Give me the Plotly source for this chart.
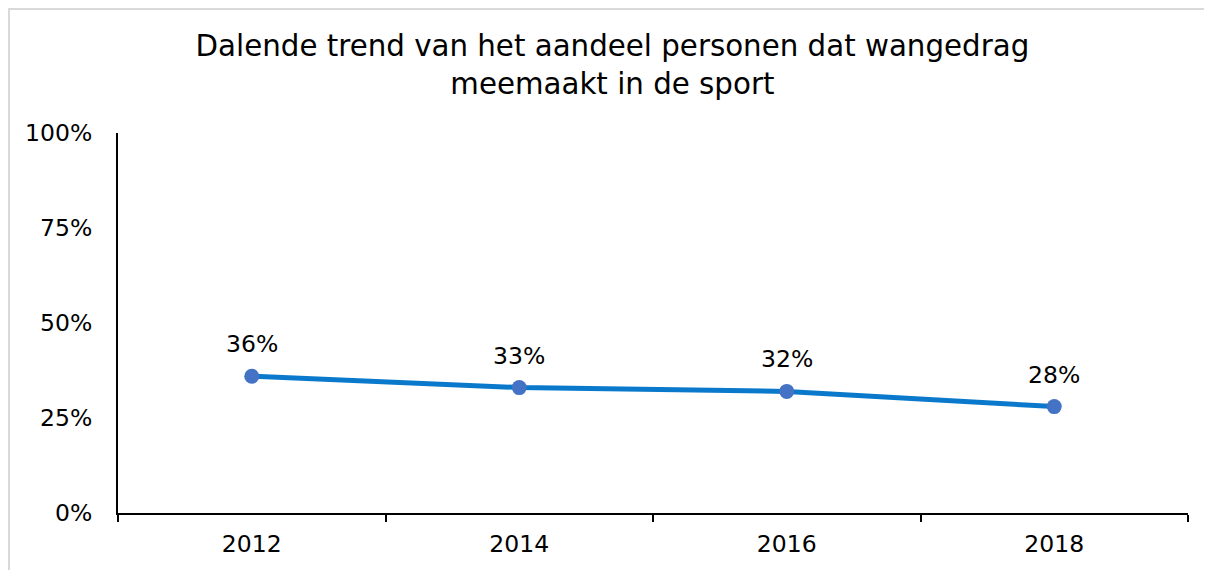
import plotly.graph_objects as go

years = ["2012", "2014", "2016", "2018"]
shares = [0.36, 0.33, 0.32, 0.28]
labels = ["36%", "33%", "32%", "28%"]
y_ticks = [0, 0.25, 0.5, 0.75, 1.0]
y_ticktext = ["0%", "25%", "50%", "75%", "100%"]
title_text = "Dalende trend van het aandeel personen dat wangedrag<br>meemaakt in de sport"

# page has an 8px body margin; figure sized to fill the rest of the window
W, H = 1204, 562
ml, mr, mt, mb = 110, 24, 125, 57
pw, ph = W - ml - mr, H - mt - mb

def px_to_paper_x(px):
    return (px - ml) / pw

def px_to_paper_y(py):
    return (H - mb - py) / ph

FONT = "DejaVu Sans, Verdana, sans-serif"
FS = 23.5

fig = go.Figure()
fig.add_trace(go.Scatter(
    x=years, y=shares,
    mode="lines+markers",
    line=dict(color="#0A79CB", width=5),
    marker=dict(color="#4472C4", size=15),
    cliponaxis=False,
    showlegend=False,
    hoverinfo="skip",
))

# category axis: annotation x given as category index
annotations = [
    dict(x=i, y=yv, text=t, xref="x", yref="y", showarrow=False,
         yshift=32, xanchor="center", yanchor="middle",
         font=dict(family=FONT, size=FS, color="#000000"))
    for i, (yv, t) in enumerate(zip(shares, labels))
]

fig.update_layout(
    width=W, height=H,
    margin=dict(l=ml, r=mr, t=mt, b=mb, autoexpand=False),
    paper_bgcolor="white", plot_bgcolor="white",
    font=dict(family=FONT, size=FS, color="#000000"),
    title=dict(
        text=title_text,
        x=0.502, xanchor="center",
        y=1 - 48 / H, yanchor="middle",
        font=dict(family=FONT, size=29.3, color="#000000"),
    ),
    xaxis=dict(
        type="category",
        range=[-0.5, 3.5],
        showline=True, linecolor="#000000", linewidth=2,
        ticks="outside", tickson="boundaries", ticklen=7, tickwidth=2, tickcolor="#000000",
        ticklabelstandoff=9,
        showgrid=False, zeroline=False,
        tickfont=dict(family=FONT, size=FS, color="#000000"),
        fixedrange=True,
    ),
    yaxis=dict(
        range=[0, 1],
        tickvals=y_ticks, ticktext=y_ticktext,
        showline=True, linecolor="#000000", linewidth=2,
        ticks="outside", ticklen=19, tickcolor="rgba(0,0,0,0)",
        showgrid=False, zeroline=False,
        tickfont=dict(family=FONT, size=FS, color="#000000"),
        fixedrange=True,
    ),
    annotations=annotations,
    shapes=[dict(
        type="rect", xref="paper", yref="paper",
        x0=px_to_paper_x(1), x1=px_to_paper_x(W + 10),
        y0=px_to_paper_y(H + 10), y1=px_to_paper_y(1),
        line=dict(color="#D9D9D9", width=2),
        fillcolor="rgba(0,0,0,0)", layer="below",
    )],
)

fig.write_html("out.html")
